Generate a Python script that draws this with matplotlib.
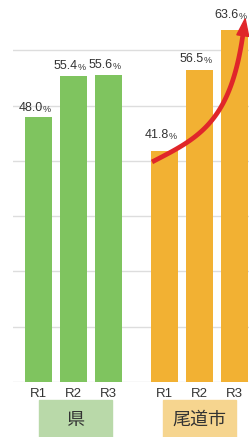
import matplotlib.pyplot as plt
import numpy as np
from matplotlib.patches import Rectangle, Polygon
import matplotlib.transforms as mtransforms

plt.rcParams['font.family'] = ['Liberation Sans', 'Noto Sans CJK JP', 'DejaVu Sans']

# データ
groups = ['県', '尾道市']
years = ['R1', 'R2', 'R3']
ken_vals = [48.0, 55.4, 55.6]
onomichi_vals = [41.8, 56.5, 63.6]
label_lift = [2, 2.5, 2.5, 7, 3, 7]  # ラベルの持ち上げ量(pt)

green = '#7fc45f'
orange = '#f2b133'
box_green = '#b9d9a9'
box_orange = '#f6d58f'
text_col = '#333333'
red = '#e0262a'

fig = plt.figure(figsize=(2.49, 4.37), dpi=100)
ax = fig.add_axes([13 / 249, 55 / 437, 236 / 249, 382 / 437])

x_ken = np.arange(3)
x_ono = np.arange(3) + 3.6
xs = np.concatenate([x_ken, x_ono])
vals = ken_vals + onomichi_vals
width = 0.77

ax.bar(x_ken, ken_vals, width, color=green, zorder=2)
ax.bar(x_ono, onomichi_vals, width, color=orange, zorder=2)

ax.set_ylim(0, 69.1)
ax.set_xlim(-0.73, 6.01)
ax.set_yticks(np.arange(0, 61, 10))
ax.yaxis.grid(True, color='#dddddd', linewidth=1)
ax.set_axisbelow(True)
ax.tick_params(axis='y', left=False, labelleft=False)
ax.set_xticks(xs)
ax.set_xticklabels(years * 2, fontsize=9.5, color=text_col)
ax.tick_params(axis='x', length=0, pad=4)
for s in ax.spines.values():
    s.set_visible(False)

# 値ラベル
for x, v, lift in zip(xs, vals, label_lift):
    ax.annotate(f'{v:.1f}', (x, v), xytext=(3, lift), textcoords='offset points',
                ha='right', va='bottom', fontsize=9, color=text_col)
    ax.annotate('%', (x, v), xytext=(3, lift), textcoords='offset points',
                ha='left', va='bottom', fontsize=6.5, color=text_col)

# グループ名の帯
trans = mtransforms.blended_transform_factory(ax.transData, ax.transAxes)
for xc, name, col in [(x_ken[1] + 0.05, groups[0], box_green),
                      (x_ono[1], groups[1], box_orange)]:
    ax.add_patch(Rectangle((xc - 1.04, -0.145), 2.08, 0.098, transform=trans,
                           color=col, clip_on=False, zorder=1))
    ax.text(xc, -0.099, name, transform=trans, ha='center', va='center',
            fontsize=13, color=text_col, family=['Noto Sans CJK JP'])

# 尾道市の伸びを示す矢印(ベジェ曲線+三角の矢じり)
fig.canvas.draw()
to_px = ax.transData.transform
p0 = to_px((x_ono[0] - 0.36, onomichi_vals[0] - 2.0))
tip = to_px((x_ono[2] + 0.3, onomichi_vals[2] + 2.1))
p1 = to_px((x_ono[0] + 0.95, onomichi_vals[0] + 2.3))
p2 = to_px((x_ono[1] + 0.88, onomichi_vals[0] + 5.0))
direc = tip - p2
direc = direc / np.hypot(*direc)
normal = np.array([-direc[1], direc[0]])
head_len, head_half = 17.0, 6.0
p3 = tip - direc * head_len
t = np.linspace(0, 1, 80)[:, None]
curve = ((1 - t) ** 3 * p0 + 3 * t * (1 - t) ** 2 * p1
         + 3 * t ** 2 * (1 - t) * p2 + t ** 3 * (p3 + direc * 2))
ax.plot(curve[:, 0], curve[:, 1], color=red, linewidth=3.4, transform=None,
        solid_capstyle='butt', zorder=4, clip_on=False)
head = np.array([tip, p3 + normal * head_half, p3 - normal * head_half])
ax.add_patch(Polygon(head, closed=True, color=red, transform=None,
                     zorder=4, clip_on=False))

fig.savefig('out.png', dpi=100)
